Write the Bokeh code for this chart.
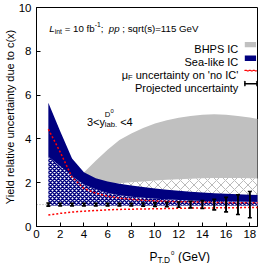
from bokeh.plotting import figure
from bokeh.layouts import column
from bokeh.models import (ColumnDataSource, Label, Span, BoxAnnotation,
                          FixedTicker, Range1d, Whisker, TeeHead)
from bokeh.embed import file_html
from bokeh.resources import INLINE

# ---------------- data ----------------
pt = [1, 2, 3, 4, 5, 6, 7, 8, 9, 10, 11, 12, 13, 14, 15, 16, 17, 18, 19]
band_lower = [0.96] * 19
sea_upper = [5.65, 4.35, 3.10, 2.48, 2.20, 2.05, 1.95, 1.87, 1.80, 1.74,
             1.68, 1.63, 1.59, 1.55, 1.52, 1.49, 1.47, 1.45, 1.43]
sea_small_upper = [3.20, 2.75, 2.30, 1.92, 1.70, 1.53, 1.43, 1.36, 1.31, 1.27,
                   1.24, 1.21, 1.19, 1.17, 1.16, 1.15, 1.14, 1.13, 1.12]
bhps_upper = [1.30, 1.60, 2.00, 2.47, 3.00, 3.50, 3.95, 4.25, 4.50, 4.70,
              4.85, 4.97, 5.05, 5.10, 5.12, 5.10, 5.05, 4.98, 4.88]
bhps_small_upper = [1.05, 1.20, 1.40, 1.60, 1.80, 1.95, 1.98, 2.02, 2.06, 2.10,
                    2.13, 2.16, 2.18, 2.20, 2.21, 2.21, 2.21, 2.20, 2.18]
muF_upper = [4.44, 3.40, 2.25, 1.74, 1.52, 1.38, 1.30, 1.24, 1.20, 1.17,
             1.15, 1.13, 1.12, 1.11, 1.10, 1.09, 1.09, 1.08, 1.08]
muF_lower = [0.52, 0.60, 0.66, 0.70, 0.73, 0.76, 0.78, 0.79, 0.80, 0.81,
             0.82, 0.83, 0.84, 0.85, 0.85, 0.86, 0.86, 0.87, 0.87]
proj_pt = [1, 2, 3, 4, 5, 6, 7, 8, 9, 10, 11, 12, 13, 14, 15, 16, 17, 18]
proj_err = [0.07, 0.06, 0.06, 0.06, 0.06, 0.06, 0.06, 0.06, 0.07, 0.08,
            0.10, 0.12, 0.15, 0.18, 0.24, 0.33, 0.45, 0.60]
ref_level = 1.0
x_ticks = [0, 2, 4, 6, 8, 10, 12, 14, 16, 18]
y_ticks = [0, 2, 4, 6, 8, 10]

FONT = "Liberation Sans"
NAVY = "#00007f"
GRAY = "#c0c0c0"

# layout geometry (canvas must fit 258x263)
W, H_MAIN, H_TITLE = 258, 243, 20
FL, FT, FB = 31, 7, 226           # frame left / top / bottom in canvas px
S = 0.97                          # reference-pixel -> canvas scale


def SX(px):
    return px * S - FL


def SY(py):
    return FB - py * S


band_src = ColumnDataSource(dict(pt=pt, lo=band_lower, sea=sea_upper, sea_s=sea_small_upper,
                                 bhps=bhps_upper, bhps_s=bhps_small_upper,
                                 mu_hi=muF_upper, mu_lo=muF_lower))
err_src = ColumnDataSource(dict(x=proj_pt,
                                lo=[ref_level - e for e in proj_err],
                                hi=[ref_level + e for e in proj_err]))

p = figure(width=W, height=H_MAIN, x_range=Range1d(0, 18.65), y_range=Range1d(0, 10),
           output_backend="svg", toolbar_location=None, title=None,
           min_border_left=FL, min_border_right=1, min_border_top=FT,
           min_border_bottom=H_MAIN - FB)
p.xgrid.visible = False
p.ygrid.visible = False
p.outline_line_color = "black"
p.outline_line_alpha = 1.0
p.background_fill_color = "white"
p.border_fill_color = "white"

for ax in (p.xaxis[0], p.yaxis[0]):
    ax.major_tick_in = 4
    ax.major_tick_out = 0
    ax.minor_tick_line_color = None
    ax.axis_line_color = "black"
    ax.major_tick_line_color = "black"
    ax.major_label_text_font = FONT
    ax.major_label_text_font_size = "11.5px"
    ax.major_label_text_color = "black"
p.xaxis.ticker = FixedTicker(ticks=x_ticks)
p.yaxis.ticker = FixedTicker(ticks=y_ticks)
p.xaxis.major_label_standoff = 3
p.yaxis.major_label_standoff = 5
p.yaxis.axis_label = "Yield relative uncertainty due to c(x)"
p.yaxis.axis_label_text_font = FONT
p.yaxis.axis_label_text_font_size = "11px"
p.yaxis.axis_label_text_font_style = "normal"
p.yaxis.axis_label_text_color = "black"
p.yaxis.axis_label_standoff = 0

p.add_layout(Span(location=ref_level, dimension="width", line_color="#999999",
                  line_dash="1 2", line_width=1, level="underlay"))

p.varea(x="pt", y1="lo", y2="bhps", source=band_src, fill_color=GRAY)
p.varea(x="pt", y1="lo", y2="bhps_s", source=band_src, fill_color="white",
        hatch_pattern="diagonal_cross", hatch_color="#a8a8a8", hatch_scale=9, hatch_weight=0.8)
p.varea(x="pt", y1="lo", y2="sea", source=band_src, fill_color=NAVY)
p.varea(x="pt", y1="lo", y2="sea_s", source=band_src, fill_color="white",
        hatch_pattern="diagonal_cross", hatch_color=NAVY, hatch_scale=4, hatch_weight=1.5)
p.line(x="pt", y="mu_hi", source=band_src, line_color="red", line_width=1.5, line_dash="2 2")
p.line(x="pt", y="mu_lo", source=band_src, line_color="red", line_width=1.5, line_dash="2 2")

p.segment(x0="x", y0="lo", x1="x", y1="hi", source=err_src, line_color="black", line_width=1.6)
p.add_layout(Whisker(source=err_src, base="x", lower="lo", upper="hi", dimension="height",
                     line_color="black", line_width=1.6, level="annotation",
                     upper_head=TeeHead(size=4, line_width=1.6, line_color="black"),
                     lower_head=TeeHead(size=4, line_width=1.6, line_color="black")))


def box(l, r, b, t, fill=None, line=None, dash="solid", lw=1.0):
    p.add_layout(BoxAnnotation(left=l, right=r, bottom=b, top=t,
                               left_units="screen", right_units="screen",
                               bottom_units="screen", top_units="screen",
                               fill_color=fill, fill_alpha=1.0 if fill else 0.0,
                               line_color=line, line_dash=dash, line_width=lw,
                               line_alpha=1.0 if line else 0.0, level="annotation"))


def lab(fig, text, x, y, size="11px", align="left", style="normal"):
    fig.add_layout(Label(text=text, x=x, y=y, x_units="screen", y_units="screen",
                         text_font=FONT, text_font_size=size, text_color="black",
                         text_align=align, text_baseline="alphabetic",
                         text_font_style=style))


# ---- legend (text right-aligned, sample on the right) ----
gx0, gx1 = SX(246.7), SX(258.3)
box(gx0, gx1, SY(48.3), SY(42.7), fill=GRAY)
box(gx0, gx1, SY(62.3), SY(56.7), fill=NAVY)
box(gx0, gx1 + 0.5, SY(72.5), SY(72.0), line="red", dash="2 2", lw=1.2)
box(gx0, gx1 + 1, SY(85.9), SY(85.6), line="black", lw=1.3)
box(gx0, gx0 + 0.2, SY(88.0), SY(83.5), line="black", lw=1.3)
box(gx1 + 0.8, gx1 + 1, SY(88.0), SY(83.5), line="black", lw=1.3)

tx = SX(240)
lab(p, "BHPS IC", tx, SY(49.6), align="right")
lab(p, "Sea-like IC", tx, SY(63.6), align="right")
lab(p, "uncertainty on 'no IC'", tx, SY(76.6), align="right")
lab(p, "F", tx - 105.6, SY(79.1), size="7.5px", align="right")
lab(p, "\u03bc", tx - 110.2, SY(76.6), align="right")
lab(p, "Projected uncertainty", tx, SY(90.1), align="right")

# ---- luminosity annotation ----
x0, y0 = SX(45), SY(29.3)
lab(p, "L", x0, y0, size="9.7px", style="italic")
lab(p, "int", x0 + 5.6, y0 - 2.4, size="6.8px")
lab(p, "= 10 fb", x0 + 15.5, y0, size="9.7px")
lab(p, "-1", x0 + 45.5, y0 + 4.4, size="6.8px")
lab(p, ";", x0 + 51.5, y0, size="9.7px")
lab(p, "pp", x0 + 59.7, y0, size="9.7px", style="italic")
lab(p, ";", x0 + 73.1, y0, size="9.7px")
lab(p, "sqrt(s)=115 GeV", x0 + 78.6, y0, size="9.7px")


# ---- rapidity annotation (data coords) ----
def dlab(text, dx, dy, size="11px"):
    p.add_layout(Label(text=text, x=4.26, y=4.77, x_offset=dx, y_offset=dy,
                       text_font=FONT, text_font_size=size, text_color="black",
                       text_baseline="alphabetic"))


dlab("3<y", 0, 0)
dlab("D", 17.8, 7.2, "7.7px")
dlab("0", 23.4, 11.0, "5.8px")
dlab("lab.", 17.8, -2.9, "7.7px")
dlab("<4", 33.2, 0)

# ---- x-axis title in a strip below ----
p2 = figure(width=W, height=H_TITLE, x_range=Range1d(0, 1), y_range=Range1d(0, 1),
            output_backend="svg", toolbar_location=None, min_border=0, title=None,
            x_axis_location=None, y_axis_location=None)
p2.grid.visible = False
p2.outline_line_color = None
p2.border_fill_color = "white"
p2.background_fill_color = "white"
lab(p2, "P", 113, 7, size="12px")
lab(p2, "T,D", 121, 4, size="8.4px")
lab(p2, "0", 134.6, 10.2, size="6px")
lab(p2, "(GeV)", 141.4, 7, size="12px")

layout = column(p, p2, spacing=0)
open("out.html", "w").write(file_html(layout, INLINE))
